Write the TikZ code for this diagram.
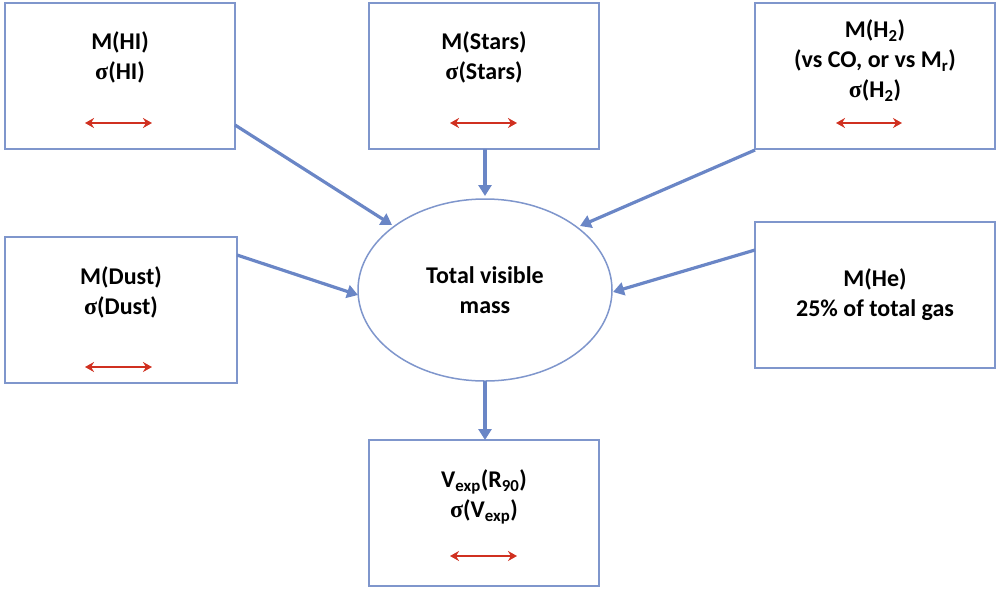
\documentclass[tikz,border=0pt]{standalone}
\usepackage{fontspec}
\setmainfont{Carlito}
\newfontfamily\grk{Liberation Serif}
\usetikzlibrary{arrows.meta}
\definecolor{bx}{HTML}{7F96CC}
\definecolor{ar}{HTML}{6A86C6}
\definecolor{rd}{HTML}{D03020}
\newcommand{\sg}{{\grk σ}}
\newcommand{\sbs}[1]{\textsubscript{#1}}
\tikzset{
 box/.style={draw=bx,line width=1.5pt,minimum width=230pt,minimum height=146pt,align=center,font=\bfseries\fontsize{24}{30}\selectfont},
 conn/.style={draw=ar,line width=3.2pt,-{Triangle[length=11pt,width=13pt]}},
 redarr/.style={draw=rd,line width=2.2pt,{Stealth[length=9pt,width=10pt]}-{Stealth[length=9pt,width=10pt]}}
}
\begin{document}
\begin{tikzpicture}[x=1pt,y=-1pt]
\useasboundingbox (0,0) rectangle (998,598);
\node[box] (hi) at (120,76) {M(HI)\\\sg(HI)\\[10pt]\phantom{x}};
\node[box] (st) at (484,76) {M(Stars)\\\sg(Stars)\\[10pt]\phantom{x}};
\node[box,minimum width=240pt] (h2) at (875,76) {M(H\sbs{2})\\(vs CO, or vs M\sbs{r})\\\sg(H\sbs{2})\\[4pt]\phantom{x}};
\node[box,minimum width=232pt] (du) at (121,310) {M(Dust)\\\sg(Dust)\\[8pt]\phantom{x}};
\node[box,minimum width=240pt] (he) at (875,295) {M(He)\\25\% of total gas};
\node[box] (v) at (484,513) {V\sbs{exp}(R\sbs{90})\\\sg(V\sbs{exp})\\[8pt]\phantom{x}};
\draw[draw=bx,line width=1.5pt] (485,290) ellipse (127 and 91);
\node[font=\bfseries\fontsize{24}{30}\selectfont,align=center] (tm) at (485,290) {Total visible\\mass};
\draw[redarr] (85,123) -- (152,123);
\draw[redarr] (450,123) -- (517,123);
\draw[redarr] (836,123) -- (902,123);
\draw[redarr] (85,367) -- (152,367);
\draw[redarr] (450,556) -- (517,556);
\draw[conn] (235,125) -- (392,225);
\draw[conn] (485,149) -- (485,196);
\draw[conn] (755,150) -- (580,226);
\draw[conn] (237,255) -- (358,295);
\draw[conn] (755,250) -- (613,292);
\draw[conn] (485,381) -- (485,440);
\end{tikzpicture}
\end{document}
